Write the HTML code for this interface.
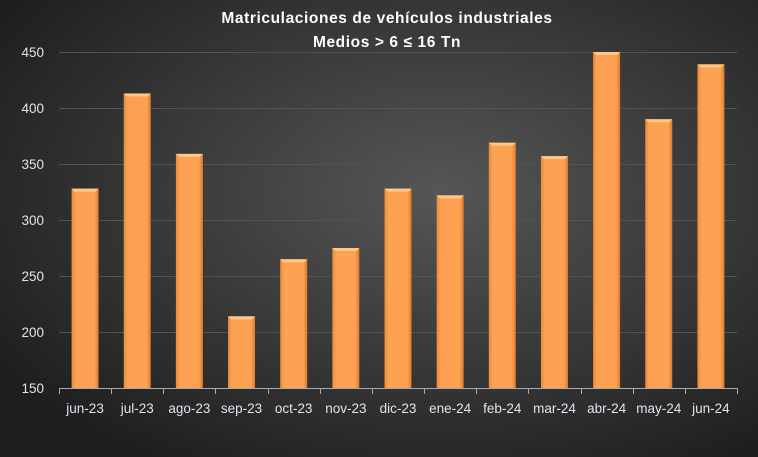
<!DOCTYPE html>
<html><head><style>
body{margin:0;width:758px;height:457px;overflow:hidden;background:#333}
svg{display:block;font-family:"Liberation Sans","DejaVu Sans",sans-serif}
</style></head><body>
<svg width="758" height="457" viewBox="0 0 758 457">
<defs>
<radialGradient id="bg" cx="58%" cy="42%" r="70%">
<stop offset="0" stop-color="#565656"/><stop offset="1" stop-color="#1e1e1e"/>
</radialGradient>
<linearGradient id="bar" x1="0" x2="1" y1="0" y2="0">
<stop offset="0" stop-color="#e88a3c"/><stop offset="0.15" stop-color="#fda253"/><stop offset="0.85" stop-color="#fda253"/><stop offset="1" stop-color="#d97b30"/>
</linearGradient>
</defs>
<rect width="758" height="457" fill="url(#bg)"/>
<text x="387" y="23" fill="#fff" font-size="15.5" font-weight="bold" text-anchor="middle" letter-spacing="0.6">Matriculaciones de vehículos industriales</text>
<text x="387" y="47" fill="#fff" font-size="15.5" font-weight="bold" text-anchor="middle" letter-spacing="0.6">Medios &gt; 6 ≤ 16 Tn</text>
<g stroke="#525252" stroke-width="1">
<line x1="59" x2="737" y1="52.5" y2="52.5"/><line x1="59" x2="737" y1="108.5" y2="108.5"/>
<line x1="59" x2="737" y1="164.5" y2="164.5"/><line x1="59" x2="737" y1="220.5" y2="220.5"/>
<line x1="59" x2="737" y1="276.5" y2="276.5"/><line x1="59" x2="737" y1="332.5" y2="332.5"/>
</g>
<g fill="#dde4ee" font-size="13.5" text-anchor="end">
<text x="44" y="57">450</text><text x="44" y="113">400</text><text x="44" y="169">350</text>
<text x="44" y="225">300</text><text x="44" y="281">250</text><text x="44" y="337">200</text><text x="44" y="393">150</text>
</g>
<g id="bars"></g>
<g id="ax" stroke="#aaa" stroke-width="1"><line x1="59" x2="737" y1="388.5" y2="388.5"/></g>
<g id="lbl" fill="#dde4ee" font-size="13.5" text-anchor="middle"></g>
<script>
var v=[328,413,359,214,265,275,328,322,369,357,450,390,439];
var l=["jun-23","jul-23","ago-23","sep-23","oct-23","nov-23","dic-23","ene-24","feb-24","mar-24","abr-24","may-24","jun-24"];
var ns="http://www.w3.org/2000/svg",b=document.getElementById("bars"),a=document.getElementById("ax"),t=document.getElementById("lbl");
var w=678/13;
for(var i=0;i<13;i++){
 var c=59+w/2+w*i,y=388-(v[i]-150)*1.12;
 var r=document.createElementNS(ns,"rect");r.setAttribute("x",c-13.5);r.setAttribute("y",y);r.setAttribute("width",27);r.setAttribute("height",388-y);r.setAttribute("fill","url(#bar)");b.appendChild(r);
 var p=document.createElementNS(ns,"polygon");p.setAttribute("points",(c-13.5)+","+y+" "+(c+13.5)+","+y+" "+(c+10.5)+","+(y+3)+" "+(c-10.5)+","+(y+3));p.setAttribute("fill","#ffc887");b.appendChild(p);
 var tx=document.createElementNS(ns,"text");tx.setAttribute("x",c);tx.setAttribute("y",413);tx.textContent=l[i];t.appendChild(tx);
}
for(var j=0;j<=13;j++){var x=Math.round(59+w*j)+0.5;var k=document.createElementNS(ns,"line");k.setAttribute("x1",x);k.setAttribute("x2",x);k.setAttribute("y1",388);k.setAttribute("y2",394);a.appendChild(k);}
</script>
</svg>
</body></html>
